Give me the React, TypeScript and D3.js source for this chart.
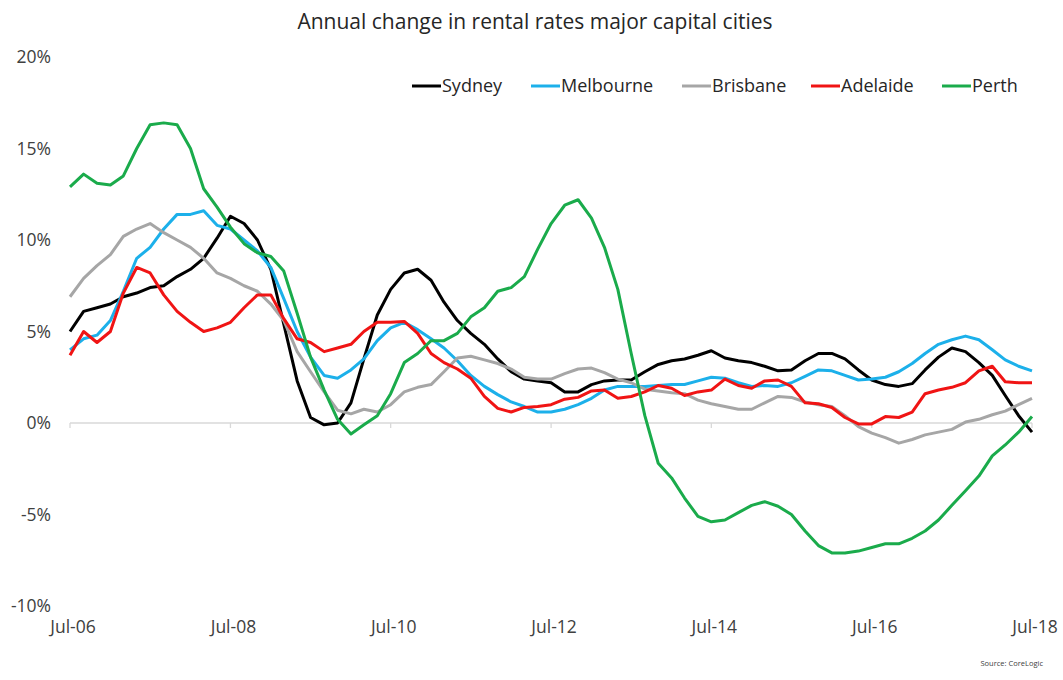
import * as d3 from 'd3';

const WIDTH = 1063;
const HEIGHT = 680;
const MARGIN = { top: 57, right: 31, bottom: 74, left: 70 };

// bimonthly readings, Jul-06 .. Jul-18 (annual % change)
const START = new Date(2006, 6, 1);
const END = new Date(2018, 6, 1);
const STEP_MONTHS = 2;

const sydney = [
  5.0, 6.1, 6.3, 6.5, 6.9, 7.1, 7.4, 7.5, 8.0, 8.4, 9.0, 10.1, 11.3, 10.9, 10.0, 8.4, 5.4, 2.3, 0.3,
  -0.1, 0.0, 1.1, 3.5, 5.9, 7.3, 8.2, 8.4, 7.8, 6.6, 5.6, 4.9, 4.3, 3.5, 2.8, 2.4, 2.3, 2.2, 1.7, 1.7,
  2.1, 2.3, 2.35, 2.35, 2.8, 3.2, 3.4, 3.5, 3.7, 3.95, 3.55, 3.4, 3.3, 3.1, 2.85, 2.9, 3.4, 3.8, 3.8,
  3.5, 2.9, 2.35, 2.1, 2.0, 2.15, 2.9, 3.6, 4.1, 3.9, 3.3, 2.6, 1.5, 0.4, -0.5,
];
const melbourne = [
  4.0, 4.6, 4.8, 5.6, 7.2, 9.0, 9.6, 10.6, 11.4, 11.4, 11.6, 10.8, 10.6, 10.0, 9.4, 8.5, 6.8, 5.0, 3.6,
  2.6, 2.45, 2.9, 3.5, 4.5, 5.2, 5.5, 5.1, 4.6, 4.1, 3.4, 2.6, 2.0, 1.55, 1.15, 0.9, 0.6, 0.6, 0.75, 1.0,
  1.35, 1.8, 2.0, 2.0, 2.0, 2.05, 2.1, 2.1, 2.3, 2.5, 2.45, 2.2, 2.0, 2.05, 2.0, 2.2, 2.55, 2.9, 2.85,
  2.6, 2.35, 2.4, 2.5, 2.8, 3.25, 3.8, 4.3, 4.55, 4.75, 4.55, 4.0, 3.45, 3.1, 2.85,
];
const brisbane = [
  6.9, 7.9, 8.6, 9.2, 10.2, 10.6, 10.9, 10.4, 10.0, 9.6, 9.0, 8.2, 7.9, 7.5, 7.2, 6.5, 5.6, 3.9, 2.8,
  1.7, 0.7, 0.5, 0.75, 0.6, 1.0, 1.7, 1.95, 2.1, 2.8, 3.55, 3.65, 3.45, 3.25, 2.95, 2.5, 2.4, 2.4, 2.7,
  2.95, 3.0, 2.75, 2.4, 2.2, 1.85, 1.75, 1.65, 1.6, 1.25, 1.05, 0.9, 0.75, 0.75, 1.1, 1.45, 1.4, 1.15,
  1.0, 0.9, 0.4, -0.2, -0.55, -0.8, -1.1, -0.9, -0.65, -0.5, -0.35, 0.05, 0.2, 0.45, 0.65, 1.0, 1.35,
];
const adelaide = [
  3.7, 5.0, 4.4, 5.0, 7.1, 8.5, 8.2, 7.0, 6.1, 5.5, 5.0, 5.2, 5.5, 6.3, 7.0, 7.0, 5.7, 4.6, 4.4, 3.9,
  4.1, 4.3, 5.0, 5.5, 5.5, 5.55, 4.9, 3.8, 3.3, 2.95, 2.45, 1.45, 0.8, 0.6, 0.85, 0.9, 1.0, 1.3, 1.4,
  1.75, 1.8, 1.35, 1.45, 1.7, 2.05, 1.9, 1.5, 1.7, 1.8, 2.4, 2.05, 1.9, 2.3, 2.35, 2.0, 1.1, 1.05, 0.85,
  0.3, -0.05, -0.05, 0.35, 0.3, 0.6, 1.6, 1.8, 1.95, 2.2, 2.85, 3.1, 2.25, 2.2, 2.2,
];
const perth = [
  12.9, 13.6, 13.1, 13.0, 13.5, 15.0, 16.3, 16.4, 16.3, 15.0, 12.8, 11.8, 10.7, 9.8, 9.3, 9.1, 8.3,
  6.0, 3.6, 1.8, 0.2, -0.6, -0.1, 0.4, 1.6, 3.3, 3.8, 4.5, 4.5, 4.9, 5.8, 6.3, 7.2, 7.4, 8.0, 9.5, 10.9,
  11.9, 12.2, 11.2, 9.6, 7.3, 3.8, 0.4, -2.2, -3.0, -4.1, -5.1, -5.4, -5.3, -4.9, -4.5, -4.3, -4.55,
  -5.0, -5.9, -6.7, -7.1, -7.1, -7.0, -6.8, -6.6, -6.6, -6.3, -5.9, -5.3, -4.5, -3.7, -2.9, -1.8, -1.2,
  -0.5, 0.35,
];

const cities = ['Sydney', 'Melbourne', 'Brisbane', 'Adelaide', 'Perth'];
const cityValues = [sydney, melbourne, brisbane, adelaide, perth];
const cityColors = ['#000000', '#1cb0ea', '#a6a6a6', '#f01414', '#1aab4b'];

const yTicks = [20, 15, 10, 5, 0, -5, -10];
const xTickLabels = ['Jul-06', 'Jul-08', 'Jul-10', 'Jul-12', 'Jul-14', 'Jul-16', 'Jul-18'];

// legend layout (left edge of each swatch)
const LEGEND_X = [412, 531, 682, 811, 942];
const LEGEND_Y = 86;

const FONT = "'Open Sans', 'Noto Sans', sans-serif";
const TEXT_COLOR = '#404040';

type Point = { date: Date; value: number };

const App = () => {
  const boundsWidth = WIDTH - MARGIN.left - MARGIN.right;
  const boundsHeight = HEIGHT - MARGIN.top - MARGIN.bottom;

  const xScale = d3.scaleTime().domain([START, END]).range([0, boundsWidth]);
  const yScale = d3.scaleLinear().domain([-10, 20]).range([boundsHeight, 0]);

  const lineBuilder = d3
    .line<Point>()
    .x((d) => xScale(d.date))
    .y((d) => yScale(d.value));

  const series = cityValues.map((vals) =>
    vals.map((v, i) => ({ date: d3.timeMonth.offset(START, i * STEP_MONTHS), value: v }))
  );

  const xTicks = xTickLabels.map((_, i) => d3.timeYear.offset(START, i * 2));
  const y0 = yScale(0);

  return (
    <svg
      width={WIDTH}
      height={HEIGHT}
      style={{ position: 'absolute', left: 0, top: 0, background: '#fff' }}
      fontFamily={FONT}
    >
      <text x={535} y={29} textAnchor="middle" fontSize={21} fill="#262626">
        Annual change in rental rates major capital cities
      </text>

      <g transform={`translate(${MARGIN.left},${MARGIN.top})`}>
        {/* y labels */}
        {yTicks.map((t) => (
          <text
            key={t}
            x={-19}
            y={yScale(t)}
            dy="0.35em"
            textAnchor="end"
            fontSize={17.5}
            fill={TEXT_COLOR}
          >
            {t + '%'}
          </text>
        ))}

        {/* zero axis + ticks */}
        <line x1={0} x2={boundsWidth} y1={y0} y2={y0} stroke="#d9d9d9" strokeWidth={1.3} />
        {xTicks.map((d, i) => (
          <line
            key={i}
            x1={xScale(d)}
            x2={xScale(d)}
            y1={y0}
            y2={y0 + 5}
            stroke="#d9d9d9"
            strokeWidth={1.3}
          />
        ))}

        {/* x labels */}
        {xTicks.map((d, i) => (
          <text
            key={i}
            x={xScale(d) + 3}
            y={boundsHeight + 27}
            textAnchor="middle"
            fontSize={17.5}
            fill={TEXT_COLOR}
          >
            {xTickLabels[i]}
          </text>
        ))}

        {/* lines */}
        {series.map((s, i) => (
          <path
            key={cities[i]}
            d={lineBuilder(s) || ''}
            fill="none"
            stroke={cityColors[i]}
            strokeWidth={3}
            strokeLinejoin="round"
          />
        ))}
      </g>

      {/* legend */}
      {cities.map((c, i) => (
        <g key={c} transform={`translate(${LEGEND_X[i]},${LEGEND_Y})`}>
          <line x1={0} x2={29} y1={0} y2={0} stroke={cityColors[i]} strokeWidth={3} />
          <text x={30} y={0} dy="0.35em" fontSize={18} fill="#262626">
            {c}
          </text>
        </g>
      ))}

      <text x={1043} y={666} textAnchor="end" fontSize={7.5} fill={TEXT_COLOR}>
        Source: CoreLogic
      </text>
    </svg>
  );
};

export default App;
